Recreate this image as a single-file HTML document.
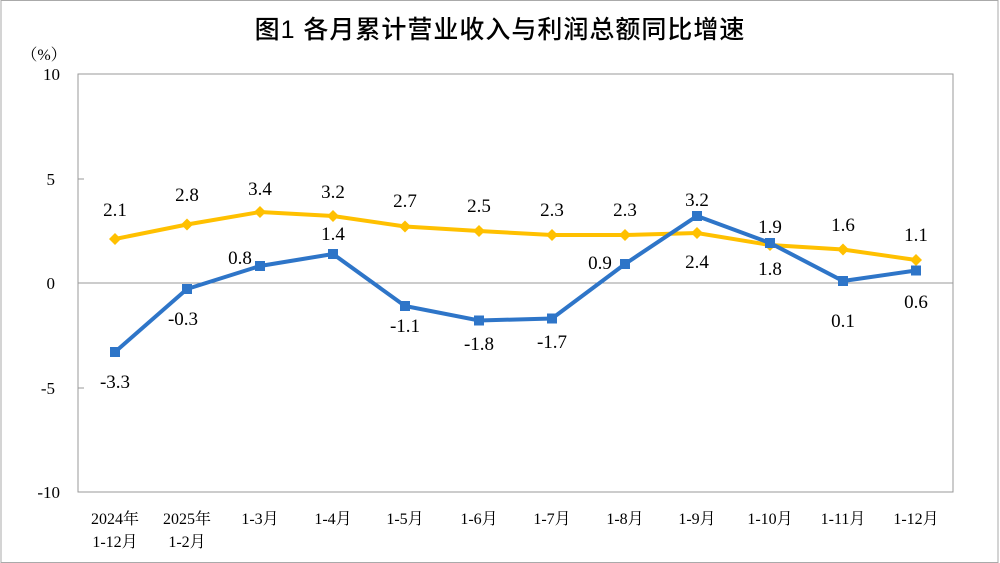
<!DOCTYPE html>
<html><head><meta charset="utf-8"><style>
html,body{margin:0;padding:0;background:#fff;}
svg{display:block;}
text{font-family:"Liberation Serif","Noto Serif CJK SC",serif;fill:#000;}
</style></head><body>
<svg width="1000" height="563" viewBox="0 0 1000 563">
<rect x="1" y="0.5" width="997" height="562" fill="#fff" stroke="#aaa" stroke-width="1"/>
<text x="500" y="38" font-size="25" text-anchor="middle" style="font-family:'Liberation Sans','Noto Sans CJK SC',sans-serif;font-weight:500;letter-spacing:1px">图1  各月累计营业收入与利润总额同比增速</text>
<text x="44" y="60" font-size="16" text-anchor="middle">（%）</text>
<rect x="78" y="74" width="875" height="418" fill="none" stroke="#999" stroke-width="1"/>
<line x1="78" y1="283" x2="953" y2="283" stroke="#999"/>
<g stroke="#999"><line x1="78" y1="179" x2="84" y2="179"/><line x1="78" y1="388" x2="84" y2="388"/></g>
<g font-size="17" text-anchor="end">
<text x="60" y="80">10</text><text x="55" y="185">5</text><text x="55" y="289">0</text><text x="55" y="394">-5</text><text x="60" y="498">-10</text>
</g>
<g font-size="16" text-anchor="middle">
<text x="115" y="524">2024年</text><text x="115" y="547">1-12月</text>
<text x="187" y="524">2025年</text><text x="187" y="547">1-2月</text>
<text x="260" y="524">1-3月</text><text x="333" y="524">1-4月</text><text x="405" y="524">1-5月</text><text x="479" y="524">1-6月</text><text x="552" y="524">1-7月</text><text x="625" y="524">1-8月</text><text x="697" y="524">1-9月</text><text x="770" y="524">1-10月</text><text x="843" y="524">1-11月</text><text x="916" y="524">1-12月</text>
</g>
<polyline fill="none" stroke="#FFC000" stroke-width="4" points="115,239 187,224.5 260,212 333,216 405,226.5 479,231 552,235 625,235 697,233 770,245 843,249.5 916,260"/>
<g fill="#FFC000">
<polygon points="115,233 121,239 115,245 109,239"/><polygon points="187,218.5 193,224.5 187,230.5 181,224.5"/><polygon points="260,206 266,212 260,218 254,212"/><polygon points="333,210 339,216 333,222 327,216"/><polygon points="405,220.5 411,226.5 405,232.5 399,226.5"/><polygon points="479,225 485,231 479,237 473,231"/><polygon points="552,229 558,235 552,241 546,235"/><polygon points="625,229 631,235 625,241 619,235"/><polygon points="697,227 703,233 697,239 691,233"/><polygon points="770,239 776,245 770,251 764,245"/><polygon points="843,243.5 849,249.5 843,255.5 837,249.5"/><polygon points="916,254 922,260 916,266 910,260"/>
</g>
<polyline fill="none" stroke="#2E75C8" stroke-width="4" points="115,352 187,289 260,266 333,254 405,306 479,320.5 552,318.5 625,264 697,216 770,243 843,281 916,270.5"/>
<g fill="#2E75C8">
<rect x="110" y="347" width="10" height="10"/><rect x="182" y="284" width="10" height="10"/><rect x="255" y="261" width="10" height="10"/><rect x="328" y="249" width="10" height="10"/><rect x="400" y="301" width="10" height="10"/><rect x="474" y="315.5" width="10" height="10"/><rect x="547" y="313.5" width="10" height="10"/><rect x="620" y="259" width="10" height="10"/><rect x="692" y="211" width="10" height="10"/><rect x="765" y="238" width="10" height="10"/><rect x="838" y="276" width="10" height="10"/><rect x="911" y="265.5" width="10" height="10"/>
</g>
<g font-size="19" text-anchor="middle">
<text x="115" y="216">2.1</text><text x="187" y="201">2.8</text><text x="260" y="195">3.4</text><text x="333" y="198">3.2</text><text x="405" y="207">2.7</text><text x="479" y="212">2.5</text><text x="552" y="216">2.3</text><text x="625" y="216">2.3</text><text x="697" y="268">2.4</text><text x="770" y="275">1.8</text><text x="843" y="231">1.6</text><text x="916" y="241">1.1</text>
<text x="115" y="388">-3.3</text><text x="183" y="325">-0.3</text><text x="240" y="264">0.8</text><text x="333" y="240">1.4</text><text x="405" y="332">-1.1</text><text x="479" y="350">-1.8</text><text x="552" y="348">-1.7</text><text x="600" y="269">0.9</text><text x="697" y="206">3.2</text><text x="770" y="233">1.9</text><text x="843" y="327">0.1</text><text x="916" y="308">0.6</text>
</g>
</svg>
</body></html>
